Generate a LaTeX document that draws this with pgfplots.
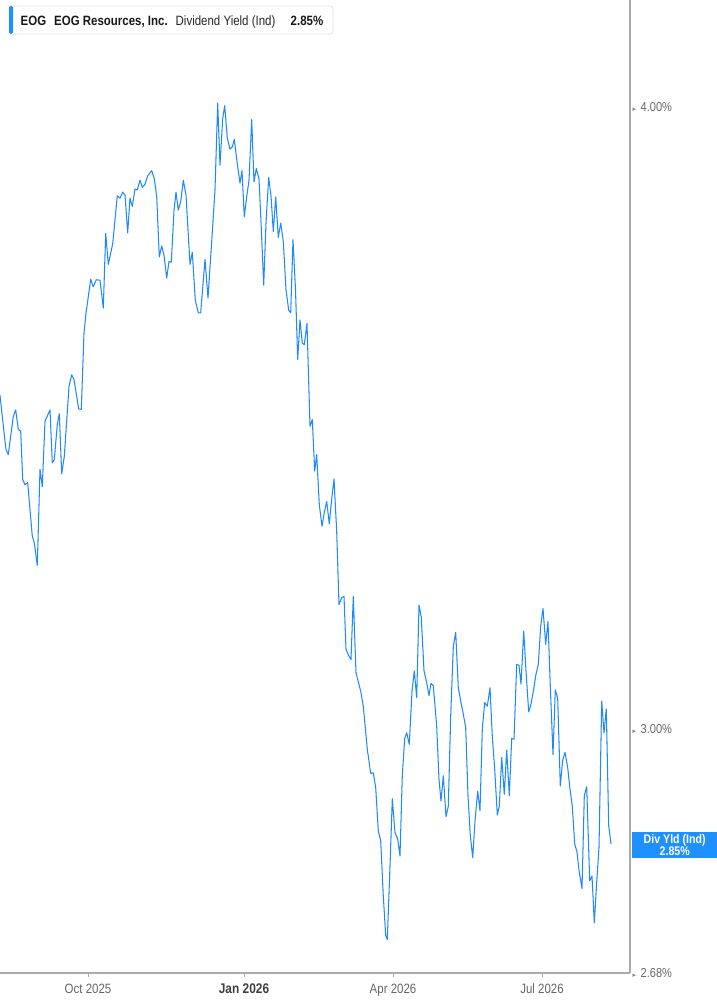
\documentclass[border=0pt]{standalone}
\usepackage{pgfplots}
\pgfplotsset{compat=1.18}
\usepackage{pgfplotstable}
\usepackage{fontspec}
\setmainfont{Liberation Sans}[FakeStretch=0.85]
\newfontfamily\dejavu{DejaVu Sans}
\definecolor{lineblue}{HTML}{1E88FF}
\definecolor{boxblue}{HTML}{1E90FF}
\definecolor{axgray}{HTML}{ABABAB}
\definecolor{tickgray}{HTML}{666666}
\pgfplotstableread{
x y
0 3.501
5 3.427
6 3.414
8.3 3.406
13.3 3.467
15.7 3.477
18.3 3.446
20.7 3.443
22.7 3.367
25 3.359
27.7 3.362
32.3 3.280
34.3 3.270
37.3 3.236
40 3.383
42.3 3.356
45 3.459
50 3.477
52.3 3.393
54.3 3.398
57.3 3.454
59.3 3.471
61.7 3.376
64.3 3.403
69 3.515
71.7 3.534
74 3.526
78.7 3.479
81.3 3.478
84 3.603
86 3.636
90.7 3.694
93.3 3.681
96.3 3.693
100 3.692
103.3 3.645
105.7 3.773
108.3 3.719
112.7 3.755
117.3 3.839
120 3.835
122.7 3.846
125 3.841
127.7 3.774
130 3.835
132.3 3.820
135 3.851
137.3 3.850
140 3.867
142.3 3.854
145 3.860
147.7 3.875
151.7 3.884
154.3 3.870
156.7 3.838
159.3 3.732
161.7 3.751
164 3.735
166.7 3.696
169 3.724
171.3 3.723
174 3.813
176 3.846
178.3 3.814
180.7 3.829
183.3 3.867
186 3.841
190 3.719
192.3 3.740
195.3 3.658
198.3 3.637
200.7 3.637
205 3.728
208 3.662
211.7 3.759
215 3.850
217.7 4.007
220 3.894
222.7 3.979
224.7 4.002
227.3 3.943
230 3.923
232.3 3.927
234.3 3.941
237.3 3.896
240 3.862
242 3.884
244.3 3.802
246.7 3.838
249 3.867
251.7 3.977
254 3.864
256.3 3.888
259 3.869
261.3 3.782
263.7 3.684
266 3.791
268.7 3.872
271 3.839
273.3 3.776
275.7 3.837
278.3 3.766
280.7 3.791
283.3 3.759
286 3.676
288.7 3.641
290.7 3.637
293 3.762
295.5 3.676
297.7 3.559
300 3.625
302.3 3.586
304.3 3.584
307 3.619
310 3.451
312.3 3.462
314.7 3.380
316.7 3.406
319.3 3.328
322 3.295
324.3 3.316
326.7 3.333
329.3 3.299
332 3.341
334 3.368
336.7 3.287
339 3.178
341.7 3.188
344 3.190
346 3.113
348.3 3.105
351 3.098
353.3 3.190
356 3.079
360.7 3.053
363.3 3.032
367.3 2.972
370.7 2.939
373.3 2.940
375.7 2.920
378.3 2.862
380.7 2.849
383.3 2.777
385.7 2.727
387.3 2.722
390 2.816
392.3 2.905
395 2.860
397.7 2.851
400 2.829
402.3 2.936
404.7 2.987
406.7 2.995
409.3 2.979
412 3.053
414.3 3.082
416.7 3.044
419 3.177
421.3 3.159
424 3.082
426.7 3.065
429 3.047
431 3.064
433.3 3.061
436.7 3.004
439 2.931
441 2.902
443.3 2.936
446 2.881
448.3 2.895
450.7 3.018
453.3 3.117
455.7 3.137
458.3 3.058
460.7 3.039
463.3 3.021
465.7 3.002
468 2.909
470.3 2.856
472.7 2.827
475 2.875
477.7 2.915
480 2.889
482.3 3.000
484.7 3.037
487.3 3.032
490 3.058
492.3 2.990
494.7 2.945
497.3 2.883
499.3 2.895
501.7 2.961
504.3 2.911
506.7 2.971
509.3 2.909
511.7 2.987
514 2.986
516.7 3.091
519 3.090
521 3.063
523.7 3.139
526 3.082
528.7 3.024
531 3.035
533.7 3.056
536 3.077
538.3 3.091
540.7 3.146
543 3.172
545.7 3.120
548 3.153
550.3 3.060
553 2.965
555.3 3.055
557.7 3.043
560.3 2.922
562.7 2.957
565 2.968
567.7 2.947
570 2.918
572.3 2.895
574.7 2.845
577 2.834
579.3 2.808
582 2.787
584.3 2.909
586.7 2.921
589.7 2.797
592 2.803
594.3 2.743
596.7 2.795
599 2.840
601.7 3.039
604 2.995
606.3 3.028
608.7 2.869
611 2.845
}\datatable
\begin{document}
\begin{tikzpicture}
\useasboundingbox (0pt,0pt) rectangle (717pt,1005pt);
\begin{axis}[
  at={(0pt,32pt)}, anchor=south west,
  scale only axis, width=630pt, height=973pt,
  xmin=0, xmax=630,
  ymode=log, ymin=2.68, ymax=4.2026,
  axis x line*=bottom, axis y line*=right,
  axis line style={draw=axgray, line width=1.5pt},
  xtick={88,244,393,542},
  xticklabels={Oct 2025,{\fontsize{14}{14}\selectfont\bfseries\color{black!75}Jan 2026},Apr 2026,Jul 2026},
  tick align=outside,
  xtick style={draw=axgray, line width=1pt},
  major tick length=4pt,
  xticklabel style={anchor=north, inner sep=0pt, yshift=-6.5pt, text=tickgray, font=\fontsize{13.5}{13.5}\selectfont},
  ytick={2.68,3,4},
  yticklabels={
    {\textcolor{tickgray!80}{\dejavu\fontsize{7}{7}\selectfont ▸}\hspace{4.5pt}2.68\%},
    {\textcolor{tickgray!80}{\dejavu\fontsize{7}{7}\selectfont ▸}\hspace{4.5pt}3.00\%},
    {\textcolor{tickgray!80}{\dejavu\fontsize{7}{7}\selectfont ▸}\hspace{4.5pt}4.00\%}},
  ytick style={draw=none},
  yticklabel style={anchor=west, inner sep=0pt, xshift=-1.5pt, text=tickgray, font=\fontsize{13}{13}\selectfont},
  clip=false,
]
\addplot[color=lineblue, line width=1.05pt, line join=round] table[x=x, y=y] {\datatable};
\end{axis}
% legend box
\draw[draw=black!12, fill=white, rounded corners=3pt, line width=0.8pt] (9pt,999pt) rectangle (333pt,971pt);
\fill[boxblue, rounded corners=1.5pt] (9pt,999pt) rectangle (13pt,971pt);
\node[anchor=base west, inner sep=0pt, font=\fontsize{13.5}{13.5}\selectfont\bfseries, text=black!90] at (20.5pt,979.5pt) {EOG};
\node[anchor=base west, inner sep=0pt, font=\fontsize{13.5}{13.5}\selectfont\bfseries, text=black!90] at (54pt,979.5pt) {EOG Resources, Inc.};
\node[anchor=base west, inner sep=0pt, font=\fontsize{13.5}{13.5}\selectfont, text=black!85] at (175.5pt,979.5pt) {Dividend Yield (Ind)};
\node[anchor=base west, inner sep=0pt, font=\fontsize{13.5}{13.5}\selectfont\bfseries, text=black!90] at (290.5pt,979.5pt) {2.85\%};
% last value box
\node[anchor=west, fill=boxblue, text=white, inner sep=0pt, minimum width=86pt, minimum height=26pt, align=center, font=\fontsize{12.5}{11.5}\selectfont\bfseries] at (631.5pt,160pt) {Div Yld (Ind)\\2.85\%};
\end{tikzpicture}
\end{document}
